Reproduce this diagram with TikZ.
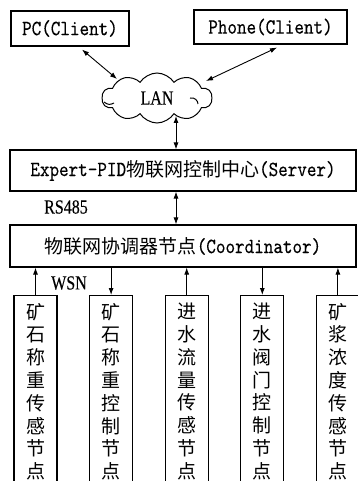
\documentclass[tikz,border=0pt]{standalone}
\usepackage{fontspec}
\setmainfont{Liberation Serif}
\newfontfamily\cjk{Noto Sans CJK SC}
\newfontfamily\mono{lmmono10-regular.otf}[FakeStretch=0.84,FakeBold=0.2]
\newfontfamily\narrow{Liberation Serif}[FakeStretch=0.8,FakeBold=0.25]
\usetikzlibrary{arrows.meta,positioning,shapes.symbols}
\newcommand{\zh}[1]{{\cjk\fontsize{19}{22.8}\selectfont #1}}
\newcommand{\en}[1]{{\mono\fontsize{21.7}{22.8}\selectfont #1}}
\tikzset{
  box/.style={rectangle, draw=black, line width=1.1pt, fill=white, inner sep=0pt, align=center},
  sensbox/.style={box, minimum width=43pt, minimum height=192pt, font=\cjk\fontsize{19}{22.8}\selectfont},
  netcloud/.style={cloud, draw=black, line width=1pt, cloud puffs=10, cloud puff arc=115, aspect=2.2,
                   minimum width=110pt, minimum height=50pt, inner sep=0pt, font=\narrow\fontsize{20}{22}\selectfont},
  lbl/.style={font=\narrow\fontsize{20}{22}\selectfont, inner sep=0pt},
  link/.style={{Latex[length=7pt,width=5pt]}-{Latex[length=7pt,width=5pt]}, line width=0.9pt},
  uplink/.style={-{Latex[length=7pt,width=5pt]}, line width=0.9pt},
  curl/.style={line width=1pt}
}
\begin{document}
\begin{tikzpicture}[x=1pt, y=-1pt]
 \clip (0,0) rectangle (358,481);
 \fill[white] (0,0) rectangle (358,481);

 % clients and network
 \node[box, minimum width=118pt, minimum height=35pt] (pc) at (70,28.5) {\en{PC(Client)}};
 \node[box, minimum width=153pt, minimum height=34pt] (phone) at (270.5,27) {\en{Phone(Client)}};
 \node[netcloud] (lan) at (157,98) {LAN};
 \draw[curl] ([shift={(-53pt,-4pt)}]lan.center) .. controls +(4,3) and +(-4,2) .. ++(10,1);
 \draw[curl] ([shift={(33pt,0pt)}]lan.center) .. controls +(5,-1) and +(0,-3) .. ++(8,6);

 \node[box, minimum width=346pt, minimum height=41pt] (server) at (183,170.5) {\en{Expert-PID}\zh{物联网控制中心}\en{(Server)}};
 \node[box, minimum width=346pt, minimum height=42pt] (coord) at (183,246) {\zh{物联网协调器节点}\en{(Coordinator)}};
 \node[lbl] (rs) at (66,207) {RS485};
 \node[lbl] (wsn) at (69,283) {WSN};

 \draw[link] ([xshift=12pt,yshift=-3pt]pc.south) -- ([shift={(-40pt,19pt)}]lan.center);
 \draw[link] ([xshift=6.5pt,yshift=-3pt]phone.south) -- ([shift={(49pt,17pt)}]lan.center);
 \draw[link] ([xshift=-7pt]server.north) -- ([shift={(19pt,-18pt)}]lan.center);
 \draw[link] ([xshift=-7pt]server.south) -- ([xshift=-7pt]coord.north);

 % field nodes
 \node[sensbox, anchor=north] (s1) at (35.5,295) {矿\\石\\称\\重\\传\\感\\节\\点};
 \node[sensbox, right=31.5pt of s1] (s2) {矿\\石\\称\\重\\控\\制\\节\\点};
 \node[sensbox, right=31.5pt of s2] (s3) {进\\水\\流\\量\\传\\感\\节\\点};
 \node[sensbox, right=31.5pt of s3] (s4) {进\\水\\阀\\门\\控\\制\\节\\点};
 \node[sensbox, right=31.5pt of s4] (s5) {矿\\浆\\浓\\度\\传\\感\\节\\点};

 \foreach \s in {s1,s3,s5}
  \draw[uplink] (\s.north) -- (\s.north |- coord.south);
 \foreach \s in {s2,s4}
  \draw[uplink] (\s.north |- coord.south) -- (\s.north);
\end{tikzpicture}
\end{document}
